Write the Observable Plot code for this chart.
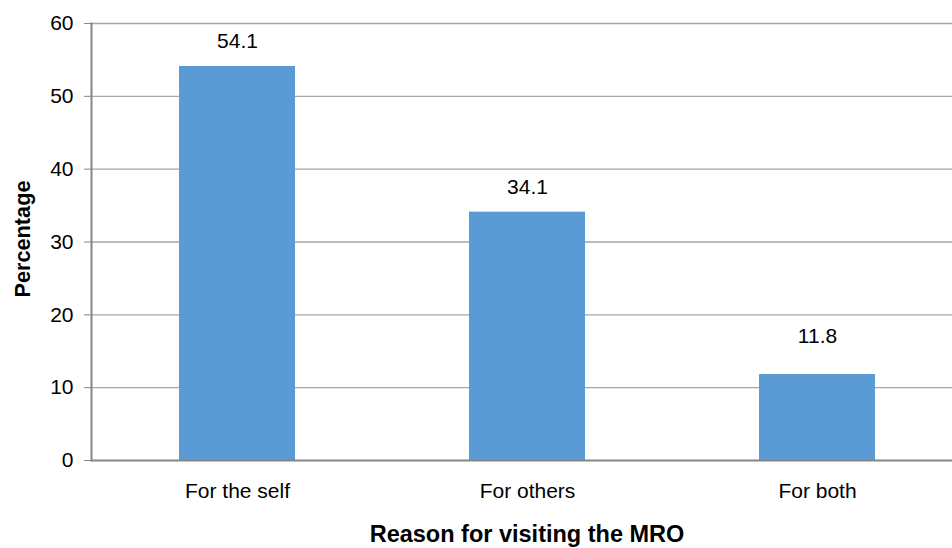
<!DOCTYPE html>
<html><head><meta charset="utf-8">
<script src="https://cdn.jsdelivr.net/npm/d3@7"></script>
<script src="https://cdn.jsdelivr.net/npm/@observablehq/plot@0.6"></script>
<style>
html,body{margin:0;padding:0;background:#fff;overflow:hidden;}
svg{font-family:"Liberation Sans",Arial,sans-serif;}
</style></head>
<body><div id="chart"></div>
<script>
const categories = ["For the self", "For others", "For both"];
const values = [54.1, 34.1, 11.8];
const yTicks = [0, 10, 20, 30, 40, 50, 60];

const data = categories.map((c, i) => ({category: c, value: values[i]}));

const chart = Plot.plot({
  width: 952,
  height: 548,
  marginLeft: 91,
  marginRight: 0,
  marginTop: 23,
  marginBottom: 88,
  style: {fontFamily: "'Liberation Sans', Arial, sans-serif", fontSize: "21px", color: "#000", background: "#fff"},
  x: {domain: categories, range: [91, 962], paddingInner: 0.6, paddingOuter: 0.3, label: null},
  y: {domain: [0, 60], ticks: yTicks, label: null},
  marks: [
    Plot.ruleY(yTicks.filter(d => d > 0), {stroke: "#a6a6a6", strokeWidth: 1.3}),
    Plot.barY(data, {x: "category", y: "value", fill: "#5B9BD5"}),
    Plot.ruleY([0], {stroke: "#868686", strokeWidth: 2}),
    Plot.frame({anchor: "left", stroke: "#868686", strokeWidth: 2}),
    Plot.axisY({ticks: yTicks, tickSize: 7, tickPadding: 11, stroke: "#868686", fontSize: 21, label: null}),
    Plot.axisX({tickSize: 0, tickPadding: 23, fontSize: 21, label: null}),
    Plot.text(data.filter(d => d.value > 20), {x: "category", y: "value", text: d => d.value.toFixed(1), dy: -25, fontSize: 21, fill: "#000"}),
    Plot.text(data.filter(d => d.value <= 20), {x: "category", y: "value", text: d => d.value.toFixed(1), dy: -38, fontSize: 21, fill: "#000"}),
    Plot.text(["Reason for visiting the MRO"], {frameAnchor: "bottom", dx: 5, dy: 81, fontSize: 23.5, fontWeight: "bold", fill: "#000"}),
    Plot.text(["Percentage"], {frameAnchor: "left", textAnchor: "middle", dx: -68, dy: -3, rotate: -90, fontSize: 21.7, fontWeight: "bold", fill: "#000"})
  ]
});
document.getElementById("chart").appendChild(chart);
</script>
</body></html>
